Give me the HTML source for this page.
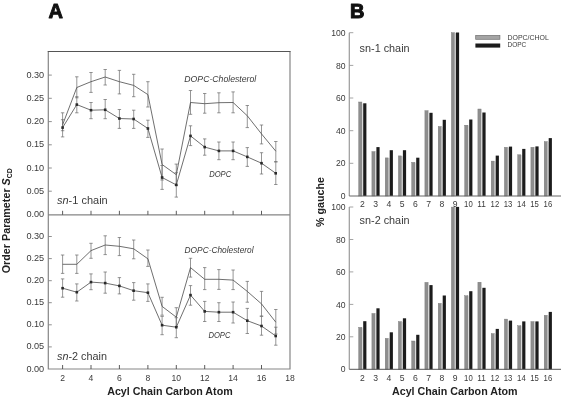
<!DOCTYPE html>
<html><head><meta charset="utf-8"><title>Figure</title>
<style>html,body{margin:0;padding:0;background:#fff;}svg{display:block;font-family:"Liberation Sans", sans-serif;}</style>
</head><body>
<svg width="561" height="399" viewBox="0 0 561 399">
<rect width="561" height="399" fill="#fff"/>
<path d="M48.3 51.5V369.0H290.0V51.5M48.3 214.8H290.0" fill="none" stroke="#858585" stroke-width="1.2"/>
<line x1="47.699999999999996" y1="51.5" x2="290.6" y2="51.5" stroke="#555" stroke-width="1.1"/>
<line x1="48.3" y1="75.1" x2="51.8" y2="75.1" stroke="#858585" stroke-width="0.9"/>
<text x="44.2" y="77.6" text-anchor="end" font-size="8.6" fill="#3a3a3a" textLength="17.8" lengthAdjust="spacingAndGlyphs">0.30</text>
<line x1="48.3" y1="98.3" x2="51.8" y2="98.3" stroke="#858585" stroke-width="0.9"/>
<text x="44.2" y="100.8" text-anchor="end" font-size="8.6" fill="#3a3a3a" textLength="17.8" lengthAdjust="spacingAndGlyphs">0.25</text>
<line x1="48.3" y1="121.6" x2="51.8" y2="121.6" stroke="#858585" stroke-width="0.9"/>
<text x="44.2" y="124.1" text-anchor="end" font-size="8.6" fill="#3a3a3a" textLength="17.8" lengthAdjust="spacingAndGlyphs">0.20</text>
<line x1="48.3" y1="144.8" x2="51.8" y2="144.8" stroke="#858585" stroke-width="0.9"/>
<text x="44.2" y="147.3" text-anchor="end" font-size="8.6" fill="#3a3a3a" textLength="17.8" lengthAdjust="spacingAndGlyphs">0.15</text>
<line x1="48.3" y1="168.0" x2="51.8" y2="168.0" stroke="#858585" stroke-width="0.9"/>
<text x="44.2" y="170.5" text-anchor="end" font-size="8.6" fill="#3a3a3a" textLength="17.8" lengthAdjust="spacingAndGlyphs">0.10</text>
<line x1="48.3" y1="191.2" x2="51.8" y2="191.2" stroke="#858585" stroke-width="0.9"/>
<text x="44.2" y="193.8" text-anchor="end" font-size="8.6" fill="#3a3a3a" textLength="17.8" lengthAdjust="spacingAndGlyphs">0.05</text>
<text x="44.2" y="217.0" text-anchor="end" font-size="8.6" fill="#3a3a3a" textLength="17.8" lengthAdjust="spacingAndGlyphs">0.00</text>
<line x1="48.3" y1="236.5" x2="51.8" y2="236.5" stroke="#858585" stroke-width="0.9"/>
<text x="44.2" y="239.0" text-anchor="end" font-size="8.6" fill="#3a3a3a" textLength="17.8" lengthAdjust="spacingAndGlyphs">0.30</text>
<line x1="48.3" y1="258.6" x2="51.8" y2="258.6" stroke="#858585" stroke-width="0.9"/>
<text x="44.2" y="261.1" text-anchor="end" font-size="8.6" fill="#3a3a3a" textLength="17.8" lengthAdjust="spacingAndGlyphs">0.25</text>
<line x1="48.3" y1="280.7" x2="51.8" y2="280.7" stroke="#858585" stroke-width="0.9"/>
<text x="44.2" y="283.2" text-anchor="end" font-size="8.6" fill="#3a3a3a" textLength="17.8" lengthAdjust="spacingAndGlyphs">0.20</text>
<line x1="48.3" y1="302.7" x2="51.8" y2="302.7" stroke="#858585" stroke-width="0.9"/>
<text x="44.2" y="305.2" text-anchor="end" font-size="8.6" fill="#3a3a3a" textLength="17.8" lengthAdjust="spacingAndGlyphs">0.15</text>
<line x1="48.3" y1="324.8" x2="51.8" y2="324.8" stroke="#858585" stroke-width="0.9"/>
<text x="44.2" y="327.3" text-anchor="end" font-size="8.6" fill="#3a3a3a" textLength="17.8" lengthAdjust="spacingAndGlyphs">0.10</text>
<line x1="48.3" y1="346.9" x2="51.8" y2="346.9" stroke="#858585" stroke-width="0.9"/>
<text x="44.2" y="349.4" text-anchor="end" font-size="8.6" fill="#3a3a3a" textLength="17.8" lengthAdjust="spacingAndGlyphs">0.05</text>
<text x="44.2" y="371.5" text-anchor="end" font-size="8.6" fill="#3a3a3a" textLength="17.8" lengthAdjust="spacingAndGlyphs">0.00</text>
<line x1="62.6" y1="214.8" x2="62.6" y2="210.8" stroke="#4a4a4a" stroke-width="0.9"/>
<line x1="62.6" y1="369.0" x2="62.6" y2="365.0" stroke="#4a4a4a" stroke-width="0.9"/>
<line x1="91.0" y1="214.8" x2="91.0" y2="210.8" stroke="#4a4a4a" stroke-width="0.9"/>
<line x1="91.0" y1="369.0" x2="91.0" y2="365.0" stroke="#4a4a4a" stroke-width="0.9"/>
<line x1="119.4" y1="214.8" x2="119.4" y2="210.8" stroke="#4a4a4a" stroke-width="0.9"/>
<line x1="119.4" y1="369.0" x2="119.4" y2="365.0" stroke="#4a4a4a" stroke-width="0.9"/>
<line x1="147.9" y1="214.8" x2="147.9" y2="210.8" stroke="#4a4a4a" stroke-width="0.9"/>
<line x1="147.9" y1="369.0" x2="147.9" y2="365.0" stroke="#4a4a4a" stroke-width="0.9"/>
<line x1="176.3" y1="214.8" x2="176.3" y2="210.8" stroke="#4a4a4a" stroke-width="0.9"/>
<line x1="176.3" y1="369.0" x2="176.3" y2="365.0" stroke="#4a4a4a" stroke-width="0.9"/>
<line x1="204.7" y1="214.8" x2="204.7" y2="210.8" stroke="#4a4a4a" stroke-width="0.9"/>
<line x1="204.7" y1="369.0" x2="204.7" y2="365.0" stroke="#4a4a4a" stroke-width="0.9"/>
<line x1="233.1" y1="214.8" x2="233.1" y2="210.8" stroke="#4a4a4a" stroke-width="0.9"/>
<line x1="233.1" y1="369.0" x2="233.1" y2="365.0" stroke="#4a4a4a" stroke-width="0.9"/>
<line x1="261.5" y1="214.8" x2="261.5" y2="210.8" stroke="#4a4a4a" stroke-width="0.9"/>
<line x1="261.5" y1="369.0" x2="261.5" y2="365.0" stroke="#4a4a4a" stroke-width="0.9"/>
<text x="62.6" y="380.6" text-anchor="middle" font-size="8.6" fill="#3a3a3a">2</text>
<text x="91.0" y="380.6" text-anchor="middle" font-size="8.6" fill="#3a3a3a">4</text>
<text x="119.4" y="380.6" text-anchor="middle" font-size="8.6" fill="#3a3a3a">6</text>
<text x="147.9" y="380.6" text-anchor="middle" font-size="8.6" fill="#3a3a3a">8</text>
<text x="176.3" y="380.6" text-anchor="middle" font-size="8.6" fill="#3a3a3a">10</text>
<text x="204.7" y="380.6" text-anchor="middle" font-size="8.6" fill="#3a3a3a">12</text>
<text x="233.1" y="380.6" text-anchor="middle" font-size="8.6" fill="#3a3a3a">14</text>
<text x="261.5" y="380.6" text-anchor="middle" font-size="8.6" fill="#3a3a3a">16</text>
<text x="290.0" y="380.6" text-anchor="middle" font-size="8.6" fill="#3a3a3a">18</text>
<path d="M62.6 112.8V136.9M60.9 112.8h3.4M60.9 136.9h3.4" stroke="#686868" stroke-width="0.7" fill="none"/>
<path d="M76.8 76.8V97.8M75.1 76.8h3.4M75.1 97.8h3.4" stroke="#686868" stroke-width="0.7" fill="none"/>
<path d="M91.0 72.5V92.4M89.3 72.5h3.4M89.3 92.4h3.4" stroke="#686868" stroke-width="0.7" fill="none"/>
<path d="M105.2 69.5V85.0M103.5 69.5h3.4M103.5 85.0h3.4" stroke="#686868" stroke-width="0.7" fill="none"/>
<path d="M119.4 70.4V93.9M117.7 70.4h3.4M117.7 93.9h3.4" stroke="#686868" stroke-width="0.7" fill="none"/>
<path d="M133.7 74.3V96.7M132.0 74.3h3.4M132.0 96.7h3.4" stroke="#686868" stroke-width="0.7" fill="none"/>
<path d="M147.9 81.7V107.0M146.2 81.7h3.4M146.2 107.0h3.4" stroke="#686868" stroke-width="0.7" fill="none"/>
<path d="M162.1 149.0V180.0M160.4 149.0h3.4M160.4 180.0h3.4" stroke="#686868" stroke-width="0.7" fill="none"/>
<path d="M176.3 164.1V185.3M174.6 164.1h3.4M174.6 185.3h3.4" stroke="#686868" stroke-width="0.7" fill="none"/>
<path d="M190.5 90.5V114.3M188.8 90.5h3.4M188.8 114.3h3.4" stroke="#686868" stroke-width="0.7" fill="none"/>
<path d="M204.7 93.5V113.2M203.0 93.5h3.4M203.0 113.2h3.4" stroke="#686868" stroke-width="0.7" fill="none"/>
<path d="M218.9 92.8V112.8M217.2 92.8h3.4M217.2 112.8h3.4" stroke="#686868" stroke-width="0.7" fill="none"/>
<path d="M233.1 91.9V112.8M231.4 91.9h3.4M231.4 112.8h3.4" stroke="#686868" stroke-width="0.7" fill="none"/>
<path d="M247.3 105.5V127.6M245.6 105.5h3.4M245.6 127.6h3.4" stroke="#686868" stroke-width="0.7" fill="none"/>
<path d="M261.5 125.0V143.9M259.8 125.0h3.4M259.8 143.9h3.4" stroke="#686868" stroke-width="0.7" fill="none"/>
<path d="M275.8 141.5V161.8M274.1 141.5h3.4M274.1 161.8h3.4" stroke="#686868" stroke-width="0.7" fill="none"/>
<polyline points="62.6,124.8 76.8,87.5 91.0,81.7 105.2,77.0 119.4,81.7 133.7,85.4 147.9,94.6 162.1,164.5 176.3,174.7 190.5,102.5 204.7,103.7 218.9,102.7 233.1,102.5 247.3,115.8 261.5,133.9 275.8,151.2" fill="none" stroke="#4a4a4a" stroke-width="0.8"/>
<path d="M62.6 119.7V130.7M60.9 119.7h3.4M60.9 130.7h3.4" stroke="#686868" stroke-width="0.7" fill="none"/>
<path d="M76.8 96.7V112.8M75.1 96.7h3.4M75.1 112.8h3.4" stroke="#686868" stroke-width="0.7" fill="none"/>
<path d="M91.0 102.5V118.7M89.3 102.5h3.4M89.3 118.7h3.4" stroke="#686868" stroke-width="0.7" fill="none"/>
<path d="M105.2 99.5V118.7M103.5 99.5h3.4M103.5 118.7h3.4" stroke="#686868" stroke-width="0.7" fill="none"/>
<path d="M119.4 109.5V128.4M117.7 109.5h3.4M117.7 128.4h3.4" stroke="#686868" stroke-width="0.7" fill="none"/>
<path d="M133.7 110.2V128.4M132.0 110.2h3.4M132.0 128.4h3.4" stroke="#686868" stroke-width="0.7" fill="none"/>
<path d="M147.9 120.2V137.4M146.2 120.2h3.4M146.2 137.4h3.4" stroke="#686868" stroke-width="0.7" fill="none"/>
<path d="M162.1 165.5V189.4M160.4 165.5h3.4M160.4 189.4h3.4" stroke="#686868" stroke-width="0.7" fill="none"/>
<path d="M176.3 172.7V197.1M174.6 172.7h3.4M174.6 197.1h3.4" stroke="#686868" stroke-width="0.7" fill="none"/>
<path d="M190.5 125.8V145.6M188.8 125.8h3.4M188.8 145.6h3.4" stroke="#686868" stroke-width="0.7" fill="none"/>
<path d="M204.7 138.9V155.2M203.0 138.9h3.4M203.0 155.2h3.4" stroke="#686868" stroke-width="0.7" fill="none"/>
<path d="M218.9 142.0V159.7M217.2 142.0h3.4M217.2 159.7h3.4" stroke="#686868" stroke-width="0.7" fill="none"/>
<path d="M233.1 142.0V159.7M231.4 142.0h3.4M231.4 159.7h3.4" stroke="#686868" stroke-width="0.7" fill="none"/>
<path d="M247.3 147.6V166.4M245.6 147.6h3.4M245.6 166.4h3.4" stroke="#686868" stroke-width="0.7" fill="none"/>
<path d="M261.5 152.7V174.0M259.8 152.7h3.4M259.8 174.0h3.4" stroke="#686868" stroke-width="0.7" fill="none"/>
<path d="M275.8 161.8V184.5M274.1 161.8h3.4M274.1 184.5h3.4" stroke="#686868" stroke-width="0.7" fill="none"/>
<polyline points="62.6,127.6 76.8,104.6 91.0,110.2 105.2,109.8 119.4,118.5 133.7,119.0 147.9,128.5 162.1,177.5 176.3,184.9 190.5,135.9 204.7,147.1 218.9,150.9 233.1,150.9 247.3,156.9 261.5,163.2 275.8,173.3" fill="none" stroke="#4a4a4a" stroke-width="0.8"/>
<rect x="61.3" y="126.3" width="2.6" height="2.6" fill="#2a2a2a"/>
<rect x="75.5" y="103.3" width="2.6" height="2.6" fill="#2a2a2a"/>
<rect x="89.7" y="108.9" width="2.6" height="2.6" fill="#2a2a2a"/>
<rect x="103.9" y="108.5" width="2.6" height="2.6" fill="#2a2a2a"/>
<rect x="118.1" y="117.2" width="2.6" height="2.6" fill="#2a2a2a"/>
<rect x="132.3" y="117.7" width="2.6" height="2.6" fill="#2a2a2a"/>
<rect x="146.6" y="127.2" width="2.6" height="2.6" fill="#2a2a2a"/>
<rect x="160.8" y="176.2" width="2.6" height="2.6" fill="#2a2a2a"/>
<rect x="175.0" y="183.6" width="2.6" height="2.6" fill="#2a2a2a"/>
<rect x="189.2" y="134.6" width="2.6" height="2.6" fill="#2a2a2a"/>
<rect x="203.4" y="145.8" width="2.6" height="2.6" fill="#2a2a2a"/>
<rect x="217.6" y="149.6" width="2.6" height="2.6" fill="#2a2a2a"/>
<rect x="231.8" y="149.6" width="2.6" height="2.6" fill="#2a2a2a"/>
<rect x="246.0" y="155.6" width="2.6" height="2.6" fill="#2a2a2a"/>
<rect x="260.2" y="161.9" width="2.6" height="2.6" fill="#2a2a2a"/>
<rect x="274.4" y="172.0" width="2.6" height="2.6" fill="#2a2a2a"/>
<path d="M62.6 255.0V273.4M60.9 255.0h3.4M60.9 273.4h3.4" stroke="#686868" stroke-width="0.7" fill="none"/>
<path d="M76.8 255.0V273.4M75.1 255.0h3.4M75.1 273.4h3.4" stroke="#686868" stroke-width="0.7" fill="none"/>
<path d="M91.0 243.3V258.3M89.3 243.3h3.4M89.3 258.3h3.4" stroke="#686868" stroke-width="0.7" fill="none"/>
<path d="M105.2 235.8V254.6M103.5 235.8h3.4M103.5 254.6h3.4" stroke="#686868" stroke-width="0.7" fill="none"/>
<path d="M119.4 237.5V255.6M117.7 237.5h3.4M117.7 255.6h3.4" stroke="#686868" stroke-width="0.7" fill="none"/>
<path d="M133.7 240.0V258.8M132.0 240.0h3.4M132.0 258.8h3.4" stroke="#686868" stroke-width="0.7" fill="none"/>
<path d="M147.9 250.0V266.4M146.2 250.0h3.4M146.2 266.4h3.4" stroke="#686868" stroke-width="0.7" fill="none"/>
<path d="M162.1 297.3V315.2M160.4 297.3h3.4M160.4 315.2h3.4" stroke="#686868" stroke-width="0.7" fill="none"/>
<path d="M176.3 307.7V326.5M174.6 307.7h3.4M174.6 326.5h3.4" stroke="#686868" stroke-width="0.7" fill="none"/>
<path d="M190.5 258.3V277.1M188.8 258.3h3.4M188.8 277.1h3.4" stroke="#686868" stroke-width="0.7" fill="none"/>
<path d="M204.7 267.6V289.6M203.0 267.6h3.4M203.0 289.6h3.4" stroke="#686868" stroke-width="0.7" fill="none"/>
<path d="M218.9 269.6V289.4M217.2 269.6h3.4M217.2 289.4h3.4" stroke="#686868" stroke-width="0.7" fill="none"/>
<path d="M233.1 270.0V289.6M231.4 270.0h3.4M231.4 289.6h3.4" stroke="#686868" stroke-width="0.7" fill="none"/>
<path d="M247.3 281.4V302.2M245.6 281.4h3.4M245.6 302.2h3.4" stroke="#686868" stroke-width="0.7" fill="none"/>
<path d="M261.5 291.4V316.0M259.8 291.4h3.4M259.8 316.0h3.4" stroke="#686868" stroke-width="0.7" fill="none"/>
<path d="M275.8 309.5V334.0M274.1 309.5h3.4M274.1 334.0h3.4" stroke="#686868" stroke-width="0.7" fill="none"/>
<polyline points="62.6,264.3 76.8,264.3 91.0,250.6 105.2,245.0 119.4,246.3 133.7,248.8 147.9,258.8 162.1,306.4 176.3,317.2 190.5,267.6 204.7,279.3 218.9,279.3 233.1,280.1 247.3,291.4 261.5,303.9 275.8,322.2" fill="none" stroke="#4a4a4a" stroke-width="0.8"/>
<path d="M62.6 278.9V297.2M60.9 278.9h3.4M60.9 297.2h3.4" stroke="#686868" stroke-width="0.7" fill="none"/>
<path d="M76.8 283.9V301.0M75.1 283.9h3.4M75.1 301.0h3.4" stroke="#686868" stroke-width="0.7" fill="none"/>
<path d="M91.0 273.9V289.7M89.3 273.9h3.4M89.3 289.7h3.4" stroke="#686868" stroke-width="0.7" fill="none"/>
<path d="M105.2 272.0V293.2M103.5 272.0h3.4M103.5 293.2h3.4" stroke="#686868" stroke-width="0.7" fill="none"/>
<path d="M119.4 277.6V293.9M117.7 277.6h3.4M117.7 293.9h3.4" stroke="#686868" stroke-width="0.7" fill="none"/>
<path d="M133.7 282.6V300.2M132.0 282.6h3.4M132.0 300.2h3.4" stroke="#686868" stroke-width="0.7" fill="none"/>
<path d="M147.9 283.9V301.4M146.2 283.9h3.4M146.2 301.4h3.4" stroke="#686868" stroke-width="0.7" fill="none"/>
<path d="M162.1 316.4V334.7M160.4 316.4h3.4M160.4 334.7h3.4" stroke="#686868" stroke-width="0.7" fill="none"/>
<path d="M176.3 317.7V337.7M174.6 317.7h3.4M174.6 337.7h3.4" stroke="#686868" stroke-width="0.7" fill="none"/>
<path d="M190.5 285.6V305.2M188.8 285.6h3.4M188.8 305.2h3.4" stroke="#686868" stroke-width="0.7" fill="none"/>
<path d="M204.7 301.4V321.5M203.0 301.4h3.4M203.0 321.5h3.4" stroke="#686868" stroke-width="0.7" fill="none"/>
<path d="M218.9 302.7V321.5M217.2 302.7h3.4M217.2 321.5h3.4" stroke="#686868" stroke-width="0.7" fill="none"/>
<path d="M233.1 302.0V323.0M231.4 302.0h3.4M231.4 323.0h3.4" stroke="#686868" stroke-width="0.7" fill="none"/>
<path d="M247.3 308.4V333.5M245.6 308.4h3.4M245.6 333.5h3.4" stroke="#686868" stroke-width="0.7" fill="none"/>
<path d="M261.5 316.4V335.2M259.8 316.4h3.4M259.8 335.2h3.4" stroke="#686868" stroke-width="0.7" fill="none"/>
<path d="M275.8 327.2V345.2M274.1 327.2h3.4M274.1 345.2h3.4" stroke="#686868" stroke-width="0.7" fill="none"/>
<polyline points="62.6,288.2 76.8,292.2 91.0,282.1 105.2,283.1 119.4,285.9 133.7,290.7 147.9,292.7 162.1,325.2 176.3,327.2 190.5,295.1 204.7,311.4 218.9,312.2 233.1,312.2 247.3,320.7 261.5,326.0 275.8,336.0" fill="none" stroke="#4a4a4a" stroke-width="0.8"/>
<rect x="61.3" y="286.9" width="2.6" height="2.6" fill="#2a2a2a"/>
<rect x="75.5" y="290.9" width="2.6" height="2.6" fill="#2a2a2a"/>
<rect x="89.7" y="280.8" width="2.6" height="2.6" fill="#2a2a2a"/>
<rect x="103.9" y="281.8" width="2.6" height="2.6" fill="#2a2a2a"/>
<rect x="118.1" y="284.6" width="2.6" height="2.6" fill="#2a2a2a"/>
<rect x="132.3" y="289.4" width="2.6" height="2.6" fill="#2a2a2a"/>
<rect x="146.6" y="291.4" width="2.6" height="2.6" fill="#2a2a2a"/>
<rect x="160.8" y="323.9" width="2.6" height="2.6" fill="#2a2a2a"/>
<rect x="175.0" y="325.9" width="2.6" height="2.6" fill="#2a2a2a"/>
<rect x="189.2" y="293.8" width="2.6" height="2.6" fill="#2a2a2a"/>
<rect x="203.4" y="310.1" width="2.6" height="2.6" fill="#2a2a2a"/>
<rect x="217.6" y="310.9" width="2.6" height="2.6" fill="#2a2a2a"/>
<rect x="231.8" y="310.9" width="2.6" height="2.6" fill="#2a2a2a"/>
<rect x="246.0" y="319.4" width="2.6" height="2.6" fill="#2a2a2a"/>
<rect x="260.2" y="324.7" width="2.6" height="2.6" fill="#2a2a2a"/>
<rect x="274.4" y="334.7" width="2.6" height="2.6" fill="#2a2a2a"/>
<text x="184.3" y="81.8" font-size="8.4" font-style="italic" fill="#3a3a3a" textLength="72" lengthAdjust="spacingAndGlyphs">DOPC-Cholesterol</text>
<text x="209.2" y="177" font-size="8.4" font-style="italic" fill="#3a3a3a" textLength="22" lengthAdjust="spacingAndGlyphs">DOPC</text>
<text x="184.6" y="252.5" font-size="8.4" font-style="italic" fill="#3a3a3a" textLength="69" lengthAdjust="spacingAndGlyphs">DOPC-Cholesterol</text>
<text x="208.4" y="338.2" font-size="8.4" font-style="italic" fill="#3a3a3a" textLength="22" lengthAdjust="spacingAndGlyphs">DOPC</text>
<text x="57" y="204.2" font-size="10.8" fill="#3a3a3a" textLength="50.7" lengthAdjust="spacingAndGlyphs"><tspan font-style="italic">sn</tspan>-1 chain</text>
<text x="57" y="359.6" font-size="10.8" fill="#3a3a3a" textLength="50" lengthAdjust="spacingAndGlyphs"><tspan font-style="italic">sn</tspan>-2 chain</text>
<text x="107.2" y="394.6" font-size="10.2" font-weight="bold" fill="#222" textLength="125.5" lengthAdjust="spacingAndGlyphs">Acyl Chain Carbon Atom</text>
<text transform="translate(9.9,273.3) rotate(-90)" font-size="10.2" font-weight="bold" fill="#222" textLength="105" lengthAdjust="spacingAndGlyphs">Order Parameter <tspan font-style="italic">S</tspan><tspan font-size="6.5" dy="1.6">CD</tspan></text>
<text x="48.6" y="17.5" font-size="20" font-weight="bold" fill="#111" stroke="#111" stroke-width="0.9" stroke-linejoin="round">A</text>
<text x="350.0" y="17.6" font-size="20" font-weight="bold" fill="#111" stroke="#111" stroke-width="1.0" stroke-linejoin="round">B</text>
<line x1="349.3" y1="32.7" x2="349.3" y2="196.0" stroke="#9a9a9a" stroke-width="1.2"/>
<line x1="349.3" y1="32.7" x2="353.3" y2="32.7" stroke="#9a9a9a" stroke-width="0.9"/>
<text x="345.6" y="35.8" text-anchor="end" font-size="8.6" fill="#3a3a3a">100</text>
<line x1="349.3" y1="65.4" x2="353.3" y2="65.4" stroke="#9a9a9a" stroke-width="0.9"/>
<text x="345.6" y="68.5" text-anchor="end" font-size="8.6" fill="#3a3a3a">80</text>
<line x1="349.3" y1="98.0" x2="353.3" y2="98.0" stroke="#9a9a9a" stroke-width="0.9"/>
<text x="345.6" y="101.1" text-anchor="end" font-size="8.6" fill="#3a3a3a">60</text>
<line x1="349.3" y1="130.7" x2="353.3" y2="130.7" stroke="#9a9a9a" stroke-width="0.9"/>
<text x="345.6" y="133.8" text-anchor="end" font-size="8.6" fill="#3a3a3a">40</text>
<line x1="349.3" y1="163.3" x2="353.3" y2="163.3" stroke="#9a9a9a" stroke-width="0.9"/>
<text x="345.6" y="166.4" text-anchor="end" font-size="8.6" fill="#3a3a3a">20</text>
<text x="345.6" y="199.1" text-anchor="end" font-size="8.6" fill="#3a3a3a">0</text>
<text x="362.4" y="207.0" text-anchor="middle" font-size="8.6" fill="#3a3a3a" >2</text>
<text x="375.6" y="207.0" text-anchor="middle" font-size="8.6" fill="#3a3a3a" >3</text>
<text x="388.9" y="207.0" text-anchor="middle" font-size="8.6" fill="#3a3a3a" >4</text>
<text x="402.1" y="207.0" text-anchor="middle" font-size="8.6" fill="#3a3a3a" >5</text>
<text x="415.4" y="207.0" text-anchor="middle" font-size="8.6" fill="#3a3a3a" >6</text>
<text x="428.6" y="207.0" text-anchor="middle" font-size="8.6" fill="#3a3a3a" >7</text>
<text x="441.9" y="207.0" text-anchor="middle" font-size="8.6" fill="#3a3a3a" >8</text>
<text x="455.1" y="207.0" text-anchor="middle" font-size="8.6" fill="#3a3a3a" >9</text>
<text x="468.4" y="207.0" text-anchor="middle" font-size="8.6" fill="#3a3a3a" textLength="8.6" lengthAdjust="spacingAndGlyphs">10</text>
<text x="481.6" y="207.0" text-anchor="middle" font-size="8.6" fill="#3a3a3a" textLength="8.6" lengthAdjust="spacingAndGlyphs">11</text>
<text x="494.9" y="207.0" text-anchor="middle" font-size="8.6" fill="#3a3a3a" textLength="8.6" lengthAdjust="spacingAndGlyphs">12</text>
<text x="508.1" y="207.0" text-anchor="middle" font-size="8.6" fill="#3a3a3a" textLength="8.6" lengthAdjust="spacingAndGlyphs">13</text>
<text x="521.4" y="207.0" text-anchor="middle" font-size="8.6" fill="#3a3a3a" textLength="8.6" lengthAdjust="spacingAndGlyphs">14</text>
<text x="534.6" y="207.0" text-anchor="middle" font-size="8.6" fill="#3a3a3a" textLength="8.6" lengthAdjust="spacingAndGlyphs">15</text>
<text x="547.9" y="207.0" text-anchor="middle" font-size="8.6" fill="#3a3a3a" textLength="8.6" lengthAdjust="spacingAndGlyphs">16</text>
<rect x="358.7" y="102.0" width="3.2" height="94.0" fill="#8e8e8e" stroke="#747474" stroke-width="0.4"/>
<rect x="362.1" y="103.8" width="1.1" height="92.2" fill="#d8d8d8"/>
<rect x="363.2" y="103.3" width="3.2" height="92.7" fill="#1c1c1c"/>
<rect x="371.9" y="151.6" width="3.2" height="44.4" fill="#8e8e8e" stroke="#747474" stroke-width="0.4"/>
<rect x="375.3" y="151.9" width="1.1" height="44.1" fill="#d8d8d8"/>
<rect x="376.4" y="147.1" width="3.2" height="48.9" fill="#1c1c1c"/>
<rect x="385.2" y="157.9" width="3.2" height="38.1" fill="#8e8e8e" stroke="#747474" stroke-width="0.4"/>
<rect x="388.6" y="158.2" width="1.1" height="37.8" fill="#d8d8d8"/>
<rect x="389.7" y="150.2" width="3.2" height="45.8" fill="#1c1c1c"/>
<rect x="398.4" y="155.9" width="3.2" height="40.1" fill="#8e8e8e" stroke="#747474" stroke-width="0.4"/>
<rect x="401.8" y="156.2" width="1.1" height="39.8" fill="#d8d8d8"/>
<rect x="402.9" y="150.2" width="3.2" height="45.8" fill="#1c1c1c"/>
<rect x="411.7" y="162.4" width="3.2" height="33.6" fill="#8e8e8e" stroke="#747474" stroke-width="0.4"/>
<rect x="415.1" y="162.7" width="1.1" height="33.3" fill="#d8d8d8"/>
<rect x="416.2" y="157.7" width="3.2" height="38.3" fill="#1c1c1c"/>
<rect x="424.9" y="110.7" width="3.2" height="85.3" fill="#8e8e8e" stroke="#747474" stroke-width="0.4"/>
<rect x="428.3" y="113.3" width="1.1" height="82.7" fill="#d8d8d8"/>
<rect x="429.4" y="112.8" width="3.2" height="83.2" fill="#1c1c1c"/>
<rect x="438.2" y="126.5" width="3.2" height="69.5" fill="#8e8e8e" stroke="#747474" stroke-width="0.4"/>
<rect x="441.6" y="126.8" width="1.1" height="69.2" fill="#d8d8d8"/>
<rect x="442.7" y="119.8" width="3.2" height="76.2" fill="#1c1c1c"/>
<rect x="451.4" y="32.7" width="3.2" height="163.3" fill="#8e8e8e" stroke="#747474" stroke-width="0.4"/>
<rect x="454.8" y="33.0" width="1.1" height="163.0" fill="#d8d8d8"/>
<rect x="455.9" y="32.5" width="3.2" height="163.5" fill="#1c1c1c"/>
<rect x="464.7" y="125.2" width="3.2" height="70.8" fill="#8e8e8e" stroke="#747474" stroke-width="0.4"/>
<rect x="468.1" y="125.5" width="1.1" height="70.5" fill="#d8d8d8"/>
<rect x="469.2" y="119.5" width="3.2" height="76.5" fill="#1c1c1c"/>
<rect x="477.9" y="109.0" width="3.2" height="87.0" fill="#8e8e8e" stroke="#747474" stroke-width="0.4"/>
<rect x="481.3" y="113.0" width="1.1" height="83.0" fill="#d8d8d8"/>
<rect x="482.4" y="112.5" width="3.2" height="83.5" fill="#1c1c1c"/>
<rect x="491.2" y="161.1" width="3.2" height="34.9" fill="#8e8e8e" stroke="#747474" stroke-width="0.4"/>
<rect x="494.6" y="161.4" width="1.1" height="34.6" fill="#d8d8d8"/>
<rect x="495.7" y="155.6" width="3.2" height="40.4" fill="#1c1c1c"/>
<rect x="504.4" y="147.3" width="3.2" height="48.7" fill="#8e8e8e" stroke="#747474" stroke-width="0.4"/>
<rect x="507.8" y="147.6" width="1.1" height="48.4" fill="#d8d8d8"/>
<rect x="508.9" y="146.6" width="3.2" height="49.4" fill="#1c1c1c"/>
<rect x="517.7" y="154.8" width="3.2" height="41.2" fill="#8e8e8e" stroke="#747474" stroke-width="0.4"/>
<rect x="521.1" y="155.1" width="1.1" height="40.9" fill="#d8d8d8"/>
<rect x="522.2" y="148.9" width="3.2" height="47.1" fill="#1c1c1c"/>
<rect x="530.9" y="147.3" width="3.2" height="48.7" fill="#8e8e8e" stroke="#747474" stroke-width="0.4"/>
<rect x="534.4" y="147.6" width="1.1" height="48.4" fill="#d8d8d8"/>
<rect x="535.4" y="146.4" width="3.2" height="49.6" fill="#1c1c1c"/>
<rect x="544.2" y="141.6" width="3.2" height="54.4" fill="#8e8e8e" stroke="#747474" stroke-width="0.4"/>
<rect x="547.6" y="141.9" width="1.1" height="54.1" fill="#d8d8d8"/>
<rect x="548.7" y="138.1" width="3.2" height="57.9" fill="#1c1c1c"/>
<line x1="349.3" y1="196.0" x2="561" y2="196.0" stroke="#666" stroke-width="1"/>
<line x1="349.3" y1="207.0" x2="349.3" y2="369.3" stroke="#9a9a9a" stroke-width="1.2"/>
<line x1="349.3" y1="207.0" x2="353.3" y2="207.0" stroke="#9a9a9a" stroke-width="0.9"/>
<text x="345.6" y="210.1" text-anchor="end" font-size="8.6" fill="#3a3a3a">100</text>
<line x1="349.3" y1="239.5" x2="353.3" y2="239.5" stroke="#9a9a9a" stroke-width="0.9"/>
<text x="345.6" y="242.6" text-anchor="end" font-size="8.6" fill="#3a3a3a">80</text>
<line x1="349.3" y1="271.9" x2="353.3" y2="271.9" stroke="#9a9a9a" stroke-width="0.9"/>
<text x="345.6" y="275.0" text-anchor="end" font-size="8.6" fill="#3a3a3a">60</text>
<line x1="349.3" y1="304.4" x2="353.3" y2="304.4" stroke="#9a9a9a" stroke-width="0.9"/>
<text x="345.6" y="307.5" text-anchor="end" font-size="8.6" fill="#3a3a3a">40</text>
<line x1="349.3" y1="336.8" x2="353.3" y2="336.8" stroke="#9a9a9a" stroke-width="0.9"/>
<text x="345.6" y="339.9" text-anchor="end" font-size="8.6" fill="#3a3a3a">20</text>
<text x="345.6" y="372.4" text-anchor="end" font-size="8.6" fill="#3a3a3a">0</text>
<text x="362.4" y="380.6" text-anchor="middle" font-size="8.6" fill="#3a3a3a" >2</text>
<text x="375.6" y="380.6" text-anchor="middle" font-size="8.6" fill="#3a3a3a" >3</text>
<text x="388.9" y="380.6" text-anchor="middle" font-size="8.6" fill="#3a3a3a" >4</text>
<text x="402.1" y="380.6" text-anchor="middle" font-size="8.6" fill="#3a3a3a" >5</text>
<text x="415.4" y="380.6" text-anchor="middle" font-size="8.6" fill="#3a3a3a" >6</text>
<text x="428.6" y="380.6" text-anchor="middle" font-size="8.6" fill="#3a3a3a" >7</text>
<text x="441.9" y="380.6" text-anchor="middle" font-size="8.6" fill="#3a3a3a" >8</text>
<text x="455.1" y="380.6" text-anchor="middle" font-size="8.6" fill="#3a3a3a" >9</text>
<text x="468.4" y="380.6" text-anchor="middle" font-size="8.6" fill="#3a3a3a" textLength="8.6" lengthAdjust="spacingAndGlyphs">10</text>
<text x="481.6" y="380.6" text-anchor="middle" font-size="8.6" fill="#3a3a3a" textLength="8.6" lengthAdjust="spacingAndGlyphs">11</text>
<text x="494.9" y="380.6" text-anchor="middle" font-size="8.6" fill="#3a3a3a" textLength="8.6" lengthAdjust="spacingAndGlyphs">12</text>
<text x="508.1" y="380.6" text-anchor="middle" font-size="8.6" fill="#3a3a3a" textLength="8.6" lengthAdjust="spacingAndGlyphs">13</text>
<text x="521.4" y="380.6" text-anchor="middle" font-size="8.6" fill="#3a3a3a" textLength="8.6" lengthAdjust="spacingAndGlyphs">14</text>
<text x="534.6" y="380.6" text-anchor="middle" font-size="8.6" fill="#3a3a3a" textLength="8.6" lengthAdjust="spacingAndGlyphs">15</text>
<text x="547.9" y="380.6" text-anchor="middle" font-size="8.6" fill="#3a3a3a" textLength="8.6" lengthAdjust="spacingAndGlyphs">16</text>
<rect x="358.7" y="327.4" width="3.2" height="41.9" fill="#8e8e8e" stroke="#747474" stroke-width="0.4"/>
<rect x="362.1" y="327.7" width="1.1" height="41.6" fill="#d8d8d8"/>
<rect x="363.2" y="321.2" width="3.2" height="48.1" fill="#1c1c1c"/>
<rect x="371.9" y="313.5" width="3.2" height="55.8" fill="#8e8e8e" stroke="#747474" stroke-width="0.4"/>
<rect x="375.3" y="313.8" width="1.1" height="55.5" fill="#d8d8d8"/>
<rect x="376.4" y="308.3" width="3.2" height="61.0" fill="#1c1c1c"/>
<rect x="385.2" y="338.4" width="3.2" height="30.9" fill="#8e8e8e" stroke="#747474" stroke-width="0.4"/>
<rect x="388.6" y="338.7" width="1.1" height="30.6" fill="#d8d8d8"/>
<rect x="389.7" y="332.3" width="3.2" height="37.0" fill="#1c1c1c"/>
<rect x="398.4" y="321.6" width="3.2" height="47.7" fill="#8e8e8e" stroke="#747474" stroke-width="0.4"/>
<rect x="401.8" y="321.9" width="1.1" height="47.4" fill="#d8d8d8"/>
<rect x="402.9" y="318.3" width="3.2" height="51.0" fill="#1c1c1c"/>
<rect x="411.7" y="341.0" width="3.2" height="28.3" fill="#8e8e8e" stroke="#747474" stroke-width="0.4"/>
<rect x="415.1" y="341.3" width="1.1" height="28.0" fill="#d8d8d8"/>
<rect x="416.2" y="334.8" width="3.2" height="34.5" fill="#1c1c1c"/>
<rect x="424.9" y="282.4" width="3.2" height="86.9" fill="#8e8e8e" stroke="#747474" stroke-width="0.4"/>
<rect x="428.3" y="285.6" width="1.1" height="83.7" fill="#d8d8d8"/>
<rect x="429.4" y="285.1" width="3.2" height="84.2" fill="#1c1c1c"/>
<rect x="438.2" y="303.4" width="3.2" height="65.9" fill="#8e8e8e" stroke="#747474" stroke-width="0.4"/>
<rect x="441.6" y="303.7" width="1.1" height="65.6" fill="#d8d8d8"/>
<rect x="442.7" y="295.5" width="3.2" height="73.8" fill="#1c1c1c"/>
<rect x="451.4" y="207.1" width="3.2" height="162.2" fill="#8e8e8e" stroke="#747474" stroke-width="0.4"/>
<rect x="454.8" y="207.4" width="1.1" height="161.9" fill="#d8d8d8"/>
<rect x="455.9" y="206.9" width="3.2" height="162.4" fill="#1c1c1c"/>
<rect x="464.7" y="295.8" width="3.2" height="73.5" fill="#8e8e8e" stroke="#747474" stroke-width="0.4"/>
<rect x="468.1" y="296.1" width="1.1" height="73.2" fill="#d8d8d8"/>
<rect x="469.2" y="291.2" width="3.2" height="78.1" fill="#1c1c1c"/>
<rect x="477.9" y="282.2" width="3.2" height="87.1" fill="#8e8e8e" stroke="#747474" stroke-width="0.4"/>
<rect x="481.3" y="288.3" width="1.1" height="81.0" fill="#d8d8d8"/>
<rect x="482.4" y="287.8" width="3.2" height="81.5" fill="#1c1c1c"/>
<rect x="491.2" y="333.6" width="3.2" height="35.7" fill="#8e8e8e" stroke="#747474" stroke-width="0.4"/>
<rect x="494.6" y="333.9" width="1.1" height="35.4" fill="#d8d8d8"/>
<rect x="495.7" y="328.9" width="3.2" height="40.4" fill="#1c1c1c"/>
<rect x="504.4" y="319.1" width="3.2" height="50.2" fill="#8e8e8e" stroke="#747474" stroke-width="0.4"/>
<rect x="507.8" y="321.1" width="1.1" height="48.2" fill="#d8d8d8"/>
<rect x="508.9" y="320.6" width="3.2" height="48.7" fill="#1c1c1c"/>
<rect x="517.7" y="325.8" width="3.2" height="43.5" fill="#8e8e8e" stroke="#747474" stroke-width="0.4"/>
<rect x="521.1" y="326.1" width="1.1" height="43.2" fill="#d8d8d8"/>
<rect x="522.2" y="321.4" width="3.2" height="47.9" fill="#1c1c1c"/>
<rect x="530.9" y="321.6" width="3.2" height="47.7" fill="#8e8e8e" stroke="#747474" stroke-width="0.4"/>
<rect x="534.4" y="321.9" width="1.1" height="47.4" fill="#d8d8d8"/>
<rect x="535.4" y="321.4" width="3.2" height="47.9" fill="#1c1c1c"/>
<rect x="544.2" y="315.3" width="3.2" height="54.0" fill="#8e8e8e" stroke="#747474" stroke-width="0.4"/>
<rect x="547.6" y="315.6" width="1.1" height="53.7" fill="#d8d8d8"/>
<rect x="548.7" y="311.9" width="3.2" height="57.4" fill="#1c1c1c"/>
<line x1="349.3" y1="369.3" x2="561" y2="369.3" stroke="#555" stroke-width="1"/>
<text x="359.6" y="52.1" font-size="10.8" fill="#3a3a3a" textLength="50" lengthAdjust="spacingAndGlyphs">sn-1 chain</text>
<text x="359.6" y="224.3" font-size="10.8" fill="#3a3a3a" textLength="50" lengthAdjust="spacingAndGlyphs">sn-2 chain</text>
<text x="392" y="394.6" font-size="10.2" font-weight="bold" fill="#222" textLength="125.6" lengthAdjust="spacingAndGlyphs">Acyl Chain Carbon Atom</text>
<text transform="translate(324.0,227.1) rotate(-90)" font-size="10.6" font-weight="bold" fill="#222" textLength="50" lengthAdjust="spacingAndGlyphs">% gauche</text>
<rect x="475.7" y="35.4" width="24.2" height="3.9" fill="#a4a4a4" stroke="#707070" stroke-width="0.7"/>
<rect x="475.4" y="43.5" width="24.8" height="4.1" fill="#1c1c1c"/>
<text x="507.5" y="39.6" font-size="7.6" fill="#3a3a3a" textLength="41.3" lengthAdjust="spacingAndGlyphs">DOPC/CHOL</text>
<text x="507.5" y="47.3" font-size="7.6" fill="#3a3a3a" textLength="18.8" lengthAdjust="spacingAndGlyphs">DOPC</text>
</svg>
</body></html>
